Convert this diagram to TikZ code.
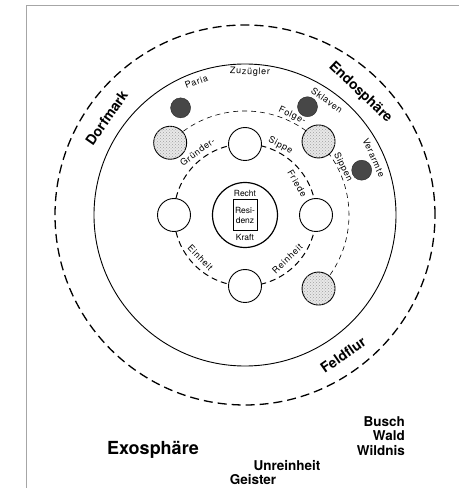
\documentclass[tikz,border=0pt]{standalone}
\usepackage{fontspec}
\setmainfont{TeX Gyre Heros}
\usetikzlibrary{patterns}

\tikzset{
  member/.style={circle, draw, line width=0.9pt, fill=white, minimum size=33pt, inner sep=0pt},
  guest/.style={member, fill=gray!18, postaction={pattern=crosshatch dots, pattern color=gray!75}},
  outcast/.style={circle, draw=black!85, fill=black!72, minimum size=20pt, inner sep=0pt},
  ringlbl/.style={inner sep=0pt, font=\fontsize{9}{9}\selectfont\addfontfeature{LetterSpace=8}},
  hoflbl/.style={inner sep=0pt, font=\fontsize{8.5}{10}\selectfont},
  zonelbl/.style={inner sep=0pt, font=\fontsize{14}{14}\selectfont\bfseries},
  outlbl/.style={inner sep=0pt, font=\fontsize{13.5}{14.5}\selectfont\bfseries}
}

\begin{document}
\begin{tikzpicture}[x=1pt, y=1pt]
\useasboundingbox (0,0) rectangle (459,488);
\draw[gray!70, line width=1.2pt] (26.5,0) -- (26.5,482.5) -- (459,482.5);

\begin{scope}[shift={(245,273)}]
% rings
\draw[line width=1.3pt, dash pattern=on 9pt off 5pt] (0,0) circle (190);
\draw[line width=0.9pt] (0,0) circle (151);
\draw[line width=0.6pt, dash pattern=on 5pt off 4pt] (-45:104) arc (-45:136:104);
\draw[line width=1pt, dash pattern=on 6pt off 4pt] (0,0) circle (71);

% centre
\node[circle, draw, line width=1.2pt, minimum size=65pt] (hof) at (0,0) {};
\node[hoflbl, draw, line width=0.8pt, minimum width=24pt, minimum height=31pt, inner sep=1pt, align=center] (res) at (0,0) {Resi-\\denz};
\node[hoflbl] (recht) at (0,22) {Recht};
\node[hoflbl] (kraft) at (0,-22) {Kraft};

% groups
\foreach \a [count=\i] in {90,180,0,270} \node[member] (m\i) at (\a:71) {};
\foreach \a [count=\i] in {136,45,-45} \node[guest] (g\i) at (\a:104) {};
\foreach \a [count=\i] in {121,60,21} \node[outcast] (o\i) at (\a:125) {};

% labels along the rings
\foreach \a/\r/\t [count=\i] in {110/142/Paria, 88/143/Zuzügler, 54.5/141/Sklaven, 24/141/Verarmte, 64.6/110/Folge-, 26/109/Sippen, 127/79/Gründer-, 63/78/Sippe, 31/61/Friede}
  \node[ringlbl, rotate=\a-90] (top\i) at (\a:\r) {\t};
\foreach \a/\r/\t [count=\i] in {224/62/Einheit, -46/61/Reinheit}
  \node[ringlbl, rotate=\a+90] (bot\i) at (\a:\r) {\t};

\node[zonelbl, rotate=55] (dorf) at (145:169) {Dorfmark};
\node[zonelbl, rotate=-43.3] (endo) at (46.7:168) {Endosphäre};
\node[zonelbl, rotate=35] (feld) at (-55:171) {Feldflur};
\end{scope}

% outside
\node[inner sep=0pt, font=\fontsize{18}{18}\selectfont\bfseries] (exo) at (153,38) {Exosphäre};
\node[outlbl, align=right, anchor=east] (wild) at (405,52) {Busch\\Wald\\Wildnis};
\node[outlbl] (unrein) at (287,22) {Unreinheit};
\node[outlbl] (geist) at (253,8) {Geister};
\end{tikzpicture}
\end{document}
